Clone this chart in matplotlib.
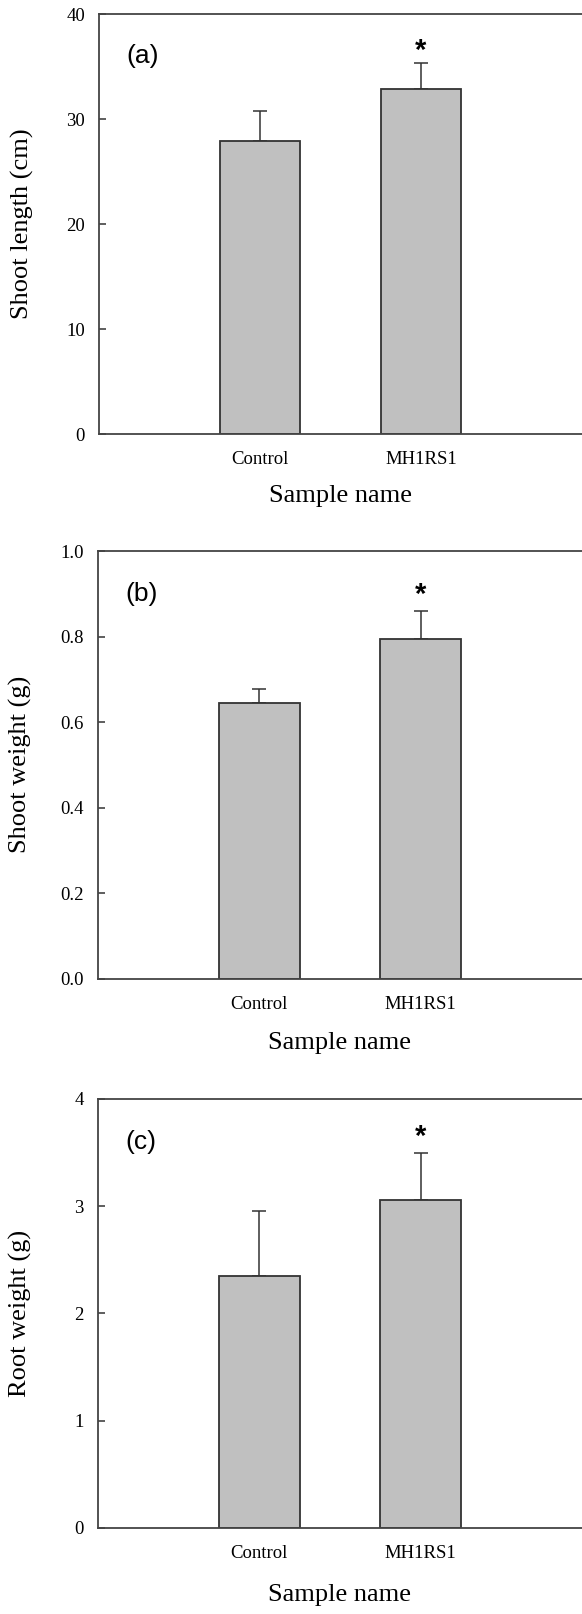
import matplotlib
matplotlib.use("Agg")
import matplotlib.pyplot as plt

# Data
samples = ["Control", "MH1RS1"]

shoot_length = [27.9, 32.9]
shoot_length_err = [2.9, 2.4]

shoot_weight = [0.644, 0.794]
shoot_weight_err = [0.034, 0.066]

root_weight = [2.35, 3.06]
root_weight_err = [0.61, 0.44]

ylabels = ["Shoot length (cm)", "Shoot weight (g)", "Root weight (g)"]
panel_tags = ["(a)", "(b)", "(c)"]
ylims = [(0, 40), (0, 1.0), (0, 4)]
yticks = [[0, 10, 20, 30, 40], [0.0, 0.2, 0.4, 0.6, 0.8, 1.0], [0, 1, 2, 3, 4]]
ytick_fmt = ["{:.0f}", "{:.1f}", "{:.0f}"]
star_y = [37.3, 0.918, 3.73]

plt.rcParams['font.family'] = ['Liberation Serif', 'DejaVu Serif']

fig = plt.figure(figsize=(5.82, 16.14), dpi=100)

# axes boxes [left, bottom, width, height] in figure fraction
boxes = [
    [0.170, 0.7311, 0.830, 0.2602],
    [0.168, 0.3936, 0.832, 0.2650],
    [0.168, 0.0533, 0.832, 0.2658],
]
xlabel_y = [-0.122, -0.124, -0.131]

values = [shoot_length, shoot_weight, root_weight]
errors = [shoot_length_err, shoot_weight_err, root_weight_err]
edge = "#333333"
star_size = 21

for i in range(3):
    ax = fig.add_axes(boxes[i])
    x = [1, 2]
    ax.bar(x, values[i], width=0.5, color="#c0c0c0", edgecolor=edge,
           linewidth=1.3, zorder=2)
    ax.errorbar(x, values[i], yerr=[[0, 0], errors[i]], fmt="none",
                ecolor=edge, elinewidth=1.1, capsize=5, capthick=1.1, zorder=1)

    ax.set_xlim(0, 3)
    ax.set_ylim(*ylims[i])
    ax.set_xticks(x)
    ax.set_xticklabels(samples, fontsize=13.5)
    ax.set_yticks(yticks[i])
    ax.set_yticklabels([ytick_fmt[i].format(t) for t in yticks[i]], fontsize=13.5)
    ax.tick_params(axis="x", length=0, pad=12.5)
    ax.tick_params(axis="y", direction="in", length=5, width=1.1, color=edge, pad=10)

    for side in ["left", "bottom", "top"]:
        ax.spines[side].set_color("#444444")
        ax.spines[side].set_linewidth(1.3)
    ax.spines["right"].set_visible(False)

    ax.set_xlabel("Sample name", fontsize=19)
    ax.xaxis.set_label_coords(0.5, xlabel_y[i])
    ax.set_ylabel(ylabels[i], fontsize=19)
    ax.yaxis.set_label_coords(-0.135, 0.5)

    ax.text(0.056, 0.90, panel_tags[i], transform=ax.transAxes, fontsize=19,
            family="Liberation Sans", ha="left", va="center")
    # asterisk glyph sits high in its box, so anchor on the baseline
    ax.annotate("*", (2, star_y[i]), xytext=(0, -0.57 * star_size), textcoords="offset points",
                fontsize=star_size, fontweight="bold", family="Liberation Sans",
                ha="center", va="baseline")

fig.savefig("out.png", dpi=100)
